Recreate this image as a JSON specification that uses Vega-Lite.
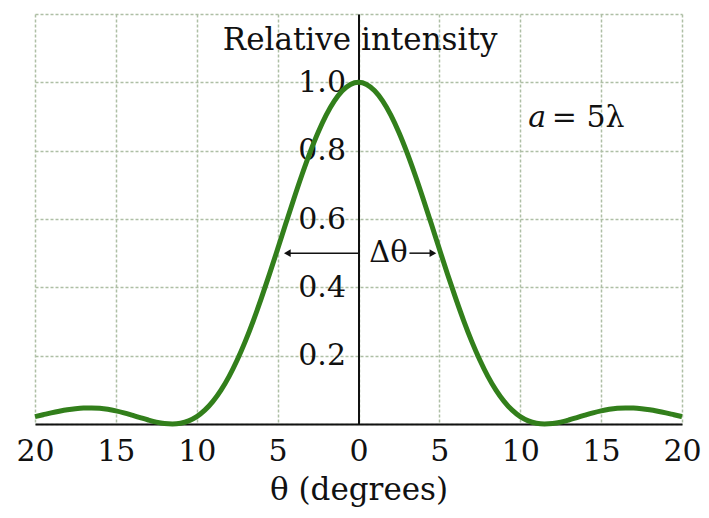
{
  "$schema": "https://vega.github.io/schema/vega-lite/v6.json",
  "width": 647,
  "height": 410,
  "autosize": {"type": "none"},
  "padding": {"left": 35, "top": 14, "right": 27, "bottom": 94},
  "background": "white",
  "config": {
    "view": {"stroke": null},
    "font": "DejaVu Serif",
    "axis": {
      "gridColor": "#aebfa5",
      "gridDash": [3, 2],
      "gridWidth": 1.5,
      "gridOpacity": 1,
      "ticks": false,
      "domainColor": "#111111",
      "domainWidth": 2,
      "labelColor": "#111111",
      "labelFont": "DejaVu Serif",
      "labelFontSize": 30,
      "labelOverlap": false,
      "labelFlush": false,
      "titleFont": "DejaVu Serif",
      "titleFontSize": 31,
      "titleFontWeight": "normal",
      "titleColor": "#111111"
    }
  },
  "datasets": {
    "curve": [
      {"theta": -20, "intensity": 0.0216},
      {"theta": -19.5, "intensity": 0.027},
      {"theta": -19, "intensity": 0.0324},
      {"theta": -18.5, "intensity": 0.0373},
      {"theta": -18, "intensity": 0.0416},
      {"theta": -17.5, "intensity": 0.0448},
      {"theta": -17, "intensity": 0.0467},
      {"theta": -16.5, "intensity": 0.0471},
      {"theta": -16, "intensity": 0.0459},
      {"theta": -15.5, "intensity": 0.043},
      {"theta": -15, "intensity": 0.0385},
      {"theta": -14.5, "intensity": 0.0327},
      {"theta": -14, "intensity": 0.0259},
      {"theta": -13.5, "intensity": 0.0187},
      {"theta": -13, "intensity": 0.0117},
      {"theta": -12.5, "intensity": 0.0056},
      {"theta": -12, "intensity": 0.0014},
      {"theta": -11.5, "intensity": 0.0},
      {"theta": -11, "intensity": 0.0023},
      {"theta": -10.5, "intensity": 0.0093},
      {"theta": -10, "intensity": 0.0217},
      {"theta": -9.5, "intensity": 0.0405},
      {"theta": -9, "intensity": 0.0662},
      {"theta": -8.5, "intensity": 0.0991},
      {"theta": -8, "intensity": 0.1395},
      {"theta": -7.5, "intensity": 0.1873},
      {"theta": -7, "intensity": 0.2419},
      {"theta": -6.5, "intensity": 0.3029},
      {"theta": -6, "intensity": 0.3691},
      {"theta": -5.5, "intensity": 0.4393},
      {"theta": -5, "intensity": 0.5121},
      {"theta": -4.5, "intensity": 0.5858},
      {"theta": -4, "intensity": 0.6587},
      {"theta": -3.5, "intensity": 0.7287},
      {"theta": -3, "intensity": 0.7941},
      {"theta": -2.5, "intensity": 0.853},
      {"theta": -2, "intensity": 0.9038},
      {"theta": -1.5, "intensity": 0.9449},
      {"theta": -1, "intensity": 0.9752},
      {"theta": -0.5, "intensity": 0.9938},
      {"theta": 0, "intensity": 1.0},
      {"theta": 0.5, "intensity": 0.9938},
      {"theta": 1, "intensity": 0.9752},
      {"theta": 1.5, "intensity": 0.9449},
      {"theta": 2, "intensity": 0.9038},
      {"theta": 2.5, "intensity": 0.853},
      {"theta": 3, "intensity": 0.7941},
      {"theta": 3.5, "intensity": 0.7287},
      {"theta": 4, "intensity": 0.6587},
      {"theta": 4.5, "intensity": 0.5858},
      {"theta": 5, "intensity": 0.5121},
      {"theta": 5.5, "intensity": 0.4393},
      {"theta": 6, "intensity": 0.3691},
      {"theta": 6.5, "intensity": 0.3029},
      {"theta": 7, "intensity": 0.2419},
      {"theta": 7.5, "intensity": 0.1873},
      {"theta": 8, "intensity": 0.1395},
      {"theta": 8.5, "intensity": 0.0991},
      {"theta": 9, "intensity": 0.0662},
      {"theta": 9.5, "intensity": 0.0405},
      {"theta": 10, "intensity": 0.0217},
      {"theta": 10.5, "intensity": 0.0093},
      {"theta": 11, "intensity": 0.0023},
      {"theta": 11.5, "intensity": 0.0},
      {"theta": 12, "intensity": 0.0014},
      {"theta": 12.5, "intensity": 0.0056},
      {"theta": 13, "intensity": 0.0117},
      {"theta": 13.5, "intensity": 0.0187},
      {"theta": 14, "intensity": 0.0259},
      {"theta": 14.5, "intensity": 0.0327},
      {"theta": 15, "intensity": 0.0385},
      {"theta": 15.5, "intensity": 0.043},
      {"theta": 16, "intensity": 0.0459},
      {"theta": 16.5, "intensity": 0.0471},
      {"theta": 17, "intensity": 0.0467},
      {"theta": 17.5, "intensity": 0.0448},
      {"theta": 18, "intensity": 0.0416},
      {"theta": 18.5, "intensity": 0.0373},
      {"theta": 19, "intensity": 0.0324},
      {"theta": 19.5, "intensity": 0.027},
      {"theta": 20, "intensity": 0.0216}
    ],
    "arrowLines": [
      {"x": -4.4, "x2": 0, "y": 0.5},
      {"x": 3.15, "x2": 4.5, "y": 0.5}
    ],
    "arrowHeads": [
      {"x": -4.4, "y": 0.5, "dir": "left"},
      {"x": 4.6, "y": 0.5, "dir": "right"}
    ]
  },
  "layer": [
    {
      "data": {"name": "curve"},
      "mark": {"type": "line", "color": "#327f1b", "strokeWidth": 5, "interpolate": "monotone"},
      "encoding": {
        "x": {
          "field": "theta",
          "type": "quantitative",
          "scale": {"domain": [-20, 20], "nice": false, "zero": false},
          "axis": {
            "values": [-20, -15, -10, -5, 0, 5, 10, 15, 20],
            "labelExpr": "abs(datum.value)",
            "labelPadding": 12,
            "title": "θ (degrees)",
            "titlePadding": 9
          }
        },
        "y": {
          "field": "intensity",
          "type": "quantitative",
          "scale": {"domain": [0, 1.2], "nice": false},
          "axis": {
            "values": [0, 0.2, 0.4, 0.6, 0.8, 1.0, 1.2],
            "labelExpr": "datum.value > 0.05 && datum.value < 1.1 ? format(datum.value, '.1f') : ''",
            "offset": -323.5,
            "labelPadding": 13,
            "title": null
          }
        }
      }
    },
    {
      "data": {"name": "arrowLines"},
      "mark": {"type": "rule", "color": "#111111", "strokeWidth": 1.5},
      "encoding": {
        "x": {"field": "x", "type": "quantitative"},
        "x2": {"field": "x2"},
        "y": {"field": "y", "type": "quantitative"}
      }
    },
    {
      "data": {"name": "arrowHeads"},
      "mark": {"type": "point", "filled": true, "color": "#111111", "size": 60, "opacity": 1},
      "encoding": {
        "x": {"field": "x", "type": "quantitative"},
        "y": {"field": "y", "type": "quantitative"},
        "shape": {
          "field": "dir",
          "type": "nominal",
          "scale": {"domain": ["left", "right"], "range": ["triangle-left", "triangle-right"]},
          "legend": null
        }
      }
    },
    {
      "data": {"values": [{"x": 1.85, "y": 0.5, "label": "Δθ"}]},
      "mark": {"type": "text", "font": "DejaVu Serif", "fontSize": 29, "color": "#111111", "align": "center", "baseline": "middle"},
      "encoding": {
        "x": {"field": "x", "type": "quantitative"},
        "y": {"field": "y", "type": "quantitative"},
        "text": {"field": "label"}
      }
    },
    {
      "data": {"values": [{"x": 0.1, "y": 1.096, "label": "Relative intensity"}]},
      "mark": {"type": "text", "font": "DejaVu Serif", "fontSize": 31, "color": "#111111", "align": "center", "baseline": "alphabetic"},
      "encoding": {
        "x": {"field": "x", "type": "quantitative"},
        "y": {"field": "y", "type": "quantitative"},
        "text": {"field": "label"}
      }
    },
    {
      "data": {"values": [{"x": 11.6, "y": 0.868, "label": "a"}]},
      "mark": {"type": "text", "font": "DejaVu Serif", "fontSize": 30, "fontStyle": "italic", "color": "#111111", "align": "right", "baseline": "alphabetic"},
      "encoding": {
        "x": {"field": "x", "type": "quantitative"},
        "y": {"field": "y", "type": "quantitative"},
        "text": {"field": "label"}
      }
    },
    {
      "data": {"values": [{"x": 11.95, "y": 0.868, "label": "= 5λ"}]},
      "mark": {"type": "text", "font": "DejaVu Serif", "fontSize": 30, "color": "#111111", "align": "left", "baseline": "alphabetic"},
      "encoding": {
        "x": {"field": "x", "type": "quantitative"},
        "y": {"field": "y", "type": "quantitative"},
        "text": {"field": "label"}
      }
    }
  ]
}
